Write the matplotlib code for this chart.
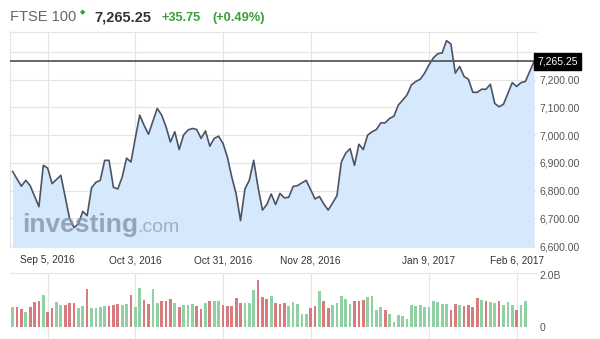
import matplotlib
matplotlib.use("Agg")
import matplotlib.pyplot as plt
from matplotlib.transforms import blended_transform_factory

plt.rcParams['font.family'] = ['Liberation Sans', 'DejaVu Sans']

# ---------------- data ----------------
title_name = "FTSE 100"
last_price = 7265.25
change_abs = "+35.75"
change_pct = "(+0.49%)"

prices = [
    6869, 6842, 6816, 6837, 6818, 6780, 6742, 6891, 6881, 6825,
    6840, 6855, 6777, 6699, 6667, 6680, 6725, 6710, 6810, 6830,
    6837, 6909, 6909, 6812, 6806, 6849, 6917, 6903, 6990, 7072,
    7035, 7003, 7050, 7096, 7072, 7030, 6975, 7012, 6948, 7000,
    7018, 7024, 7020, 6988, 7015, 6960, 6988, 6996, 6970, 6921,
    6849, 6788, 6692, 6806, 6837, 6909, 6812, 6730, 6750, 6788,
    6750, 6790, 6774, 6776, 6815, 6818, 6828, 6837, 6803, 6770,
    6779, 6752, 6730, 6755, 6782, 6903, 6935, 6951, 6891, 6967,
    6948, 7000, 7012, 7020, 7044, 7044, 7060, 7068, 7108, 7126,
    7145, 7181, 7193, 7201, 7223, 7253, 7278, 7293, 7296, 7340,
    7328, 7223, 7247, 7211, 7201, 7154, 7154, 7165, 7165, 7183,
    7114, 7102, 7111, 7150, 7189, 7175, 7189, 7193, 7230, 7265.25,
]

volumes_b = [
    0.76, 0.76, 0.69, 0.56, 0.76, 0.96, 1.01, 1.24, 0.58, 0.72,
    0.96, 0.83, 0.83, 0.91, 0.91, 0.73, 0.79, 1.46, 0.73, 0.73,
    0.77, 0.81, 0.81, 0.86, 0.88, 0.83, 0.88, 1.23, 0.77, 1.49,
    1.03, 0.88, 1.46, 0.91, 1.01, 0.99, 1.09, 0.91, 0.77, 0.86,
    0.86, 0.88, 0.79, 0.69, 0.91, 0.99, 0.99, 0.99, 0.86, 0.82,
    0.82, 1.12, 0.91, 0.91, 0.91, 1.41, 1.79, 1.15, 1.09, 1.21,
    0.91, 0.88, 0.91, 0.79, 0.95, 0.88,
    0.51, 0.51, 0.73, 0.79, 1.37, 1.01, 0.73, 0.86, 0.92, 1.21,
    1.09, 0.88, 0.99, 0.99, 1.05, 1.14, 1.21, 0.67, 0.76, 0.67,
    0.51, 0.21, 0.47, 0.41, 0.32, 0.83, 0.82, 0.83, 0.76, 0.76,
    0.99, 0.95, 0.88, 0.88, 0.67, 0.90, 0.83, 0.79, 0.83, 0.76,
    1.12, 1.05, 0.99, 0.95, 0.92, 1.01, 0.83, 0.95, 0.83, 0.67,
    0.86, 0.99,
]

volume_dir = (
    "grrgrrrgrr" "ggrrrggrgg" "ggrrrggrgg" "rrggrrrgrg"
    "ggrrgrggrr" "rrrgggrrrg" "rrrggg"
    "ggrrgrrggg" "ggrrrggggr" "gggggggggg" "ggggrrgrrr"
    "rgrggrgggr" "gg"
)

tick_index = [8, 28, 48, 68, 95, 115]
tick_labels = ["Sep 5, 2016", "Oct 3, 2016", "Oct 31, 2016",
               "Nov 28, 2016", "Jan 9, 2017", "Feb 6, 2017"]
price_ticks = [6600, 6700, 6800, 6900, 7000, 7100, 7200, 7300]

# ---------------- styling ----------------
W, H = 600, 339
fig = plt.figure(figsize=(W / 100, H / 100), dpi=100)
fig.patch.set_facecolor("white")

def rect(x0, y0, x1, y1):
    return [x0 / W, 1 - y1 / H, (x1 - x0) / W, (y1 - y0) / H]

grid_c = "#e4e4e4"
label_c = "#555555"
line_c = "#4b5364"
fill_c = "#d6e8fb"
green_c = "#8fd1a3"
red_c = "#d97b7e"

x = list(range(len(prices)))

ax = fig.add_axes(rect(10, 31.5, 535.5, 247))
ax.fill_between(x, prices, 6500, color=fill_c, lw=0, zorder=1)
ax.plot(x, prices, color=line_c, lw=1.2, zorder=3)
ax.axhline(last_price, color="#5a5a5a", lw=1.3, zorder=4)
ax.set_xlim(-0.6, 119.3)
ax.set_ylim(6597, 7373)
ax.set_yticks(price_ticks)
ax.set_yticklabels([f"{v:,.2f}" if v < 7300 else "" for v in price_ticks])
ax.yaxis.tick_right()
ax.tick_params(axis="y", length=0, pad=3, labelsize=7.5, labelcolor=label_c)
ax.set_xticks(tick_index)
ax.set_xticklabels(tick_labels)
ax.tick_params(axis="x", length=0, pad=6, labelsize=7.3, labelcolor="#333333")
ax.grid(True, color=grid_c, lw=0.8, zorder=0)
ax.set_axisbelow(True)
for s in ["right", "bottom"]:
    ax.spines[s].set_visible(False)
for s in ["top", "left"]:
    ax.spines[s].set_color(grid_c)
    ax.spines[s].set_linewidth(0.8)

tr = blended_transform_factory(ax.transAxes, ax.transData)
ax.text(1.004, last_price, f"{last_price:,.2f}", transform=tr, color="white",
        fontsize=7.5, va="center", ha="left", zorder=6,
        bbox=dict(boxstyle="square,pad=0.3", fc="black", ec="black"))

# watermark
wm = fig.text(22 / W, 1 - 232 / H, "investing", fontsize=19, fontweight="bold",
              color="#8593a6", alpha=0.8, va="baseline", ha="left")
fig.canvas.draw()
bb = wm.get_window_extent()
fig.text(bb.x1 / W - 0.002, 1 - 232 / H, ".com", fontsize=14,
         color="#9aa6b6", alpha=0.85, va="baseline", ha="left")

# volume pane
axv = fig.add_axes(rect(10, 273, 535.5, 339))
vx = list(range(len(volumes_b)))
vcol = [green_c if d == "g" else red_c for d in volume_dir]
axv.bar(vx, volumes_b, width=0.62, color=vcol, zorder=2)
axv.set_xlim(-0.6, 119.3)
axv.set_ylim(-0.46, 2.077)
axv.set_xticks(tick_index)
axv.set_xticklabels([])
axv.tick_params(axis="x", length=0)
axv.grid(True, axis="x", color=grid_c, lw=0.8, zorder=0)
axv.set_yticks([0, 2.0])
axv.set_yticklabels(["0", "2.0B"])
axv.yaxis.tick_right()
axv.tick_params(axis="y", length=0, pad=3, labelsize=7.5, labelcolor=label_c)
for s in ["right", "bottom", "left"]:
    axv.spines[s].set_visible(False)
axv.spines["top"].set_color(grid_c)
axv.spines["top"].set_linewidth(0.8)

# header
base = 1 - 21 / H
fig.text(10 / W, base, title_name, fontsize=10.5, color="#666666", va="baseline")
fig.text(83 / W, 1 - 12 / H, "\u25C6", fontsize=5, color="#2e9e3a", va="center",
         ha="center", family="DejaVu Sans")
fig.text(94 / W, base, f"{last_price:,.2f}", fontsize=10.5, fontweight="bold",
         color="#333333", va="baseline")
fig.text(162 / W, base, change_abs, fontsize=9.2, fontweight="bold",
         color="#3a9d3a", va="baseline")
fig.text(212 / W, base, change_pct, fontsize=9.2, fontweight="bold",
         color="#3a9d3a", va="baseline")

fig.savefig("out.png", dpi=100)
